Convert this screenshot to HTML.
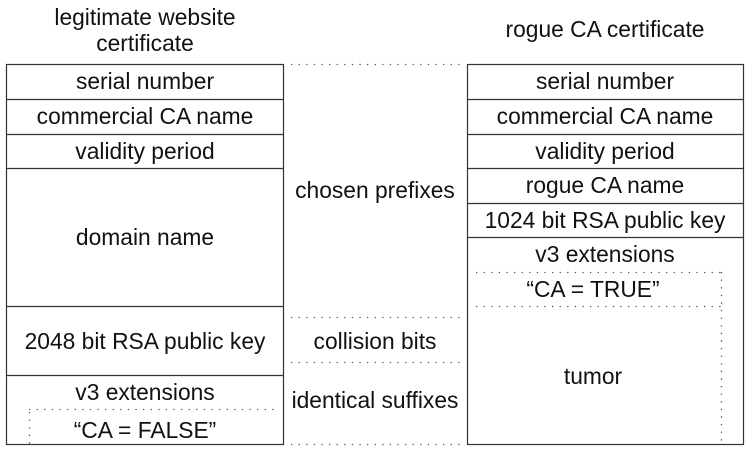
<!DOCTYPE html>
<html><head><meta charset="utf-8"><style>
body{margin:0;background:#fff}
text{font-family:"Liberation Sans",sans-serif;font-size:22.8px;fill:#111;text-anchor:middle}
</style></head><body>
<svg width="753" height="454" viewBox="0 0 753 454" xmlns="http://www.w3.org/2000/svg">
<g>
<text x="145" y="25">legitimate website</text>
<text x="145" y="51">certificate</text>
</g>
<text x="605" y="37">rogue CA certificate</text>

<g stroke="#333" stroke-width="1.2" fill="none">
<rect x="6.5" y="64.5" width="277" height="380"/>
<line x1="6" y1="99.5" x2="284" y2="99.5"/>
<line x1="6" y1="134.5" x2="284" y2="134.5"/>
<line x1="6" y1="168.5" x2="284" y2="168.5"/>
<line x1="6" y1="306.5" x2="284" y2="306.5"/>
<line x1="6" y1="375.5" x2="284" y2="375.5"/>
</g>
<g>
<text x="145" y="89">serial number</text>
<text x="145" y="124">commercial CA name</text>
<text x="145" y="159">validity period</text>
<text x="145" y="245">domain name</text>
<text x="145" y="349">2048 bit RSA public key</text>
<text x="145" y="400">v3 extensions</text>
<text x="145" y="438">“CA = FALSE”</text>
</g>
<g stroke="#555" stroke-width="1.3" stroke-dasharray="1.3 6.3" fill="none">
<line x1="29" y1="409.5" x2="278" y2="409.5"/>
<line x1="29.5" y1="412" x2="29.5" y2="444"/>
</g>

<g stroke="#333" stroke-width="1.2" fill="none">
<rect x="467.5" y="64.5" width="276" height="380"/>
<line x1="467" y1="99.5" x2="744" y2="99.5"/>
<line x1="467" y1="134.5" x2="744" y2="134.5"/>
<line x1="467" y1="168.5" x2="744" y2="168.5"/>
<line x1="467" y1="203.5" x2="744" y2="203.5"/>
<line x1="467" y1="237.5" x2="744" y2="237.5"/>
</g>
<g>
<text x="605" y="89">serial number</text>
<text x="605" y="124">commercial CA name</text>
<text x="605" y="159">validity period</text>
<text x="605" y="193">rogue CA name</text>
<text x="605" y="228">1024 bit RSA public key</text>
<text x="605" y="262">v3 extensions</text>
<text x="593" y="297">“CA = TRUE”</text>
<text x="593" y="384">tumor</text>
</g>
<g stroke="#555" stroke-width="1.3" stroke-dasharray="1.3 6.3" fill="none">
<line x1="476" y1="272.5" x2="722" y2="272.5"/>
<line x1="476" y1="306.5" x2="722" y2="306.5"/>
<line x1="721.5" y1="272" x2="721.5" y2="442"/>
</g>

<g stroke="#555" stroke-width="1.3" stroke-dasharray="1.3 6.3" fill="none">
<line x1="291" y1="64.5" x2="462" y2="64.5"/>
<line x1="291" y1="317.5" x2="462" y2="317.5"/>
<line x1="291" y1="362.5" x2="462" y2="362.5"/>
<line x1="291" y1="444.5" x2="462" y2="444.5"/>
</g>
<g>
<text x="375" y="198">chosen prefixes</text>
<text x="375" y="349">collision bits</text>
<text x="375" y="408">identical suffixes</text>
</g>
</svg>
</body></html>
